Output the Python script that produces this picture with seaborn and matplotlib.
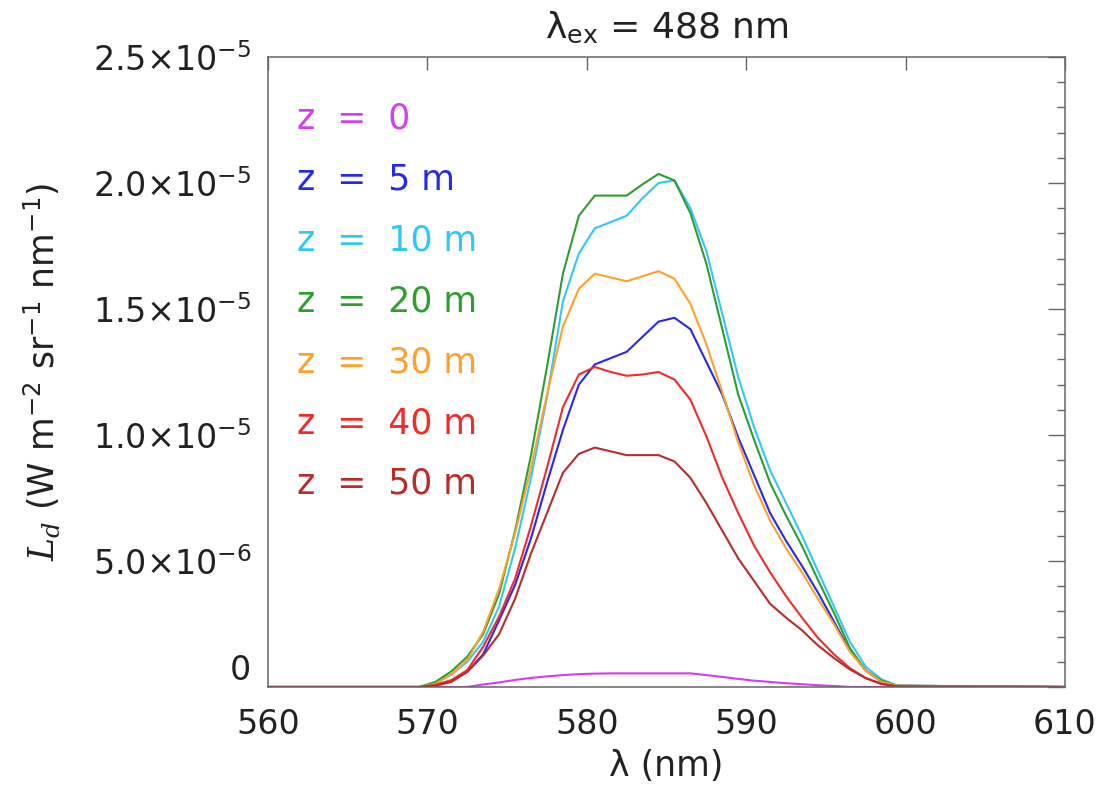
import numpy as np
import pandas as pd
import seaborn as sns
import matplotlib
import matplotlib.pyplot as plt
from matplotlib.ticker import MultipleLocator, FuncFormatter

# wavelength grid (nm); values below in units of 1e-6 W m-2 sr-1 nm-1
wl_grid = [569.5 + i for i in range(31)]
wl = [560.0] + wl_grid + [610.0]

depth_labels = ["z = 0", "z = 5 m", "z = 10 m", "z = 20 m", "z = 30 m", "z = 40 m", "z = 50 m"]
colors = ["#d63cf2", "#2828ee", "#30c8f8", "#2e9e2e", "#ffa028", "#f42a2a", "#b82c2c"]

L_0 = [0, 0, 0, 0, 0.1, 0.18, 0.28, 0.36, 0.42, 0.47, 0.51, 0.53, 0.54, 0.54, 0.54, 0.54, 0.54,
       0.54, 0.47, 0.4, 0.32, 0.25, 0.2, 0.15, 0.11, 0.07, 0.04, 0, 0, 0, 0]
L_5 = [0, 0.08, 0.25, 0.6, 1.3, 2.65, 4.05, 5.9, 8.1, 10.2, 12.0, 12.8, 13.05, 13.3, 13.9, 14.5,
       14.65, 14.2, 12.9, 11.6, 9.9, 8.4, 6.9, 5.8, 4.8, 3.75, 2.6, 1.45, 0.65, 0.2, 0.05]
L_10 = [0, 0.15, 0.5, 1.0, 1.8, 3.2, 5.5, 8.3, 11.5, 15.3, 17.2, 18.2, 18.45, 18.7, 19.4, 20.0,
        20.1, 19.0, 17.3, 14.8, 12.3, 10.3, 8.6, 7.3, 6.0, 4.6, 3.2, 1.8, 0.8, 0.3, 0.05]
L_20 = [0, 0.2, 0.62, 1.2, 2.1, 3.7, 6.2, 9.2, 12.7, 16.4, 18.7, 19.5, 19.5, 19.5, 19.95, 20.36,
        20.1, 18.8, 16.8, 14.2, 11.6, 9.8, 8.1, 6.8, 5.6, 4.25, 2.95, 1.55, 0.65, 0.25, 0.05]
L_30 = [0, 0.12, 0.5, 1.07, 2.2, 3.9, 6.1, 8.7, 11.6, 14.3, 15.8, 16.4, 16.25, 16.1, 16.3, 16.5,
        16.2, 15.2, 13.6, 11.7, 9.7, 8.0, 6.6, 5.5, 4.55, 3.5, 2.5, 1.4, 0.65, 0.2, 0.05]
L_40 = [0, 0.08, 0.27, 0.67, 1.6, 2.8, 4.3, 6.4, 8.7, 11.1, 12.4, 12.7, 12.5, 12.35, 12.4, 12.5,
        12.2, 11.4, 9.95, 8.3, 6.9, 5.6, 4.55, 3.6, 2.75, 1.95, 1.3, 0.75, 0.35, 0.12, 0.02]
L_50 = [0, 0.05, 0.2, 0.6, 1.25, 2.1, 3.5, 5.3, 6.9, 8.5, 9.25, 9.5, 9.35, 9.2, 9.2, 9.2,
        8.95, 8.3, 7.3, 6.2, 5.1, 4.2, 3.3, 2.75, 2.25, 1.65, 1.15, 0.7, 0.35, 0.12, 0.02]

series = [L_0, L_5, L_10, L_20, L_30, L_40, L_50]

rows = []
for lab, vals in zip(depth_labels, series):
    full = [0.0] + vals + [0.0]
    for x, v in zip(wl, full):
        rows.append({"wl": x, "Ld": v * 1e-6, "depth": lab})
df = pd.DataFrame(rows)

sns.set_theme(style="white")
plt.rcParams["font.family"] = ["DejaVu Sans"]
plt.rcParams["mathtext.fontset"] = "custom"
plt.rcParams["mathtext.rm"] = "DejaVu Sans"
plt.rcParams["mathtext.it"] = "DejaVu Serif:italic"
plt.rcParams["mathtext.bf"] = "DejaVu Sans:bold"

fig = plt.figure(figsize=(11.09, 7.94), dpi=100)
ax = fig.add_axes([0.2417, 0.1348, 0.7186, 0.7934])

sns.lineplot(data=df, x="wl", y="Ld", hue="depth", hue_order=depth_labels,
             palette=dict(zip(depth_labels, colors)), sort=False, estimator=None,
             linewidth=1.5, legend=False, ax=ax)

ax.set_xlim(560, 610)
ax.set_ylim(0, 2.5e-5)
ax.xaxis.set_major_locator(MultipleLocator(10))
ax.yaxis.set_major_locator(MultipleLocator(5e-6))
ax.yaxis.set_minor_locator(MultipleLocator(1e-6))


def sci_fmt(v, pos):
    if abs(v) < 1e-12:
        return "0"
    e = int(np.floor(np.log10(abs(v))))
    m = v / 10 ** e
    return "%.1f\u00d710$^{%d}$" % (m, e)


ax.yaxis.set_major_formatter(FuncFormatter(sci_fmt))
ax.xaxis.set_major_formatter(FuncFormatter(lambda v, p: "%d" % v))

txt_col = "#222222"
for s in ax.spines.values():
    s.set_color("#666666")
    s.set_linewidth(1.1)
ax.tick_params(axis="both", which="both", direction="in", top=True, right=True,
               colors="#666666", labelcolor=txt_col, labelsize=24, width=1.0)
ax.tick_params(axis="y", which="major", length=12, pad=12)
ax.tick_params(axis="y", which="minor", length=6)
ax.tick_params(axis="x", which="major", length=9, pad=15)

ax.set_xlabel("\u03bb (nm)", fontsize=25, color=txt_col, labelpad=6)
ax.set_ylabel(r"$L_d$ (W m$^{-2}$ sr$^{-1}$ nm$^{-1}$)", fontsize=25, color=txt_col, labelpad=22)
ax.set_title(r"\u03bb$_{\rm ex}$ = 488 nm".replace(r"\u03bb", "\u03bb"), fontsize=26,
             color=txt_col, pad=14)

for i, (lab, c) in enumerate(zip(depth_labels, colors)):
    ax.text(0.036, 0.903 - i * 0.0968, lab.replace(" = ", "  =  "), transform=ax.transAxes,
            color=c, fontsize=25, va="center", ha="left")

fig.canvas.draw()
# the zero label sits on the axis line rather than centred on it
for t in ax.yaxis.get_major_ticks():
    if t.label1.get_text() == "0":
        t.label1.set_va("bottom")

fig.savefig("out.png", dpi=100)
